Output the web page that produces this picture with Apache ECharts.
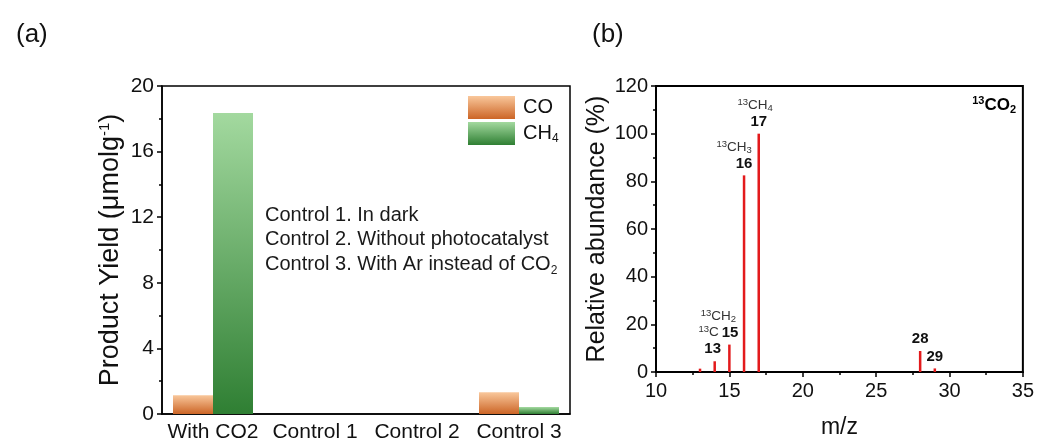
<!DOCTYPE html>
<html>
<head>
<meta charset="utf-8">
<script src="https://cdn.jsdelivr.net/npm/echarts@6/dist/echarts.min.js"></script>
<style>
  html, body { margin: 0; padding: 0; background: #fff; }
  #chart { width: 1037px; height: 444px; }
</style>
</head>
<body>
<div id="chart"></div>
<script>
// (a) product yield
const categories = ['With CO2', 'Control 1', 'Control 2', 'Control 3'];
const coYield = [1.15, 0, 0, 1.32];
const ch4Yield = [18.35, 0, 0, 0.42];

// (b) mass spectrum of 13CO2 run
const mz = [13, 14, 15, 16, 17, 28, 29];
const abundance = [1.4, 4.5, 11.5, 82.5, 100, 8.8, 1.5];
const peakTags = ['', '13', '15', '16', '17', '28', '29'];
const fragmentH = ['', '', '2', '3', '4', '', ''];   // 13CHn subscripts

const FONT = 'Liberation Sans, Arial, sans-serif';

const grad = (top, bottom) => new echarts.graphic.LinearGradient(0, 0, 0, 1, [
  { offset: 0, color: top },
  { offset: 1, color: bottom }
]);

const chem = {
  s: { fontSize: 9.5, fontFamily: FONT, color: '#333', verticalAlign: 'top' },
  f: { fontSize: 13.5, fontFamily: FONT, color: '#333', lineHeight: 16 },
  d: { fontSize: 9.5, fontFamily: FONT, color: '#333', verticalAlign: 'bottom' },
  b: { fontSize: 15, fontFamily: FONT, fontWeight: 'bold', color: '#111', lineHeight: 16 }
};

// per-peak label nudges so formula and number sit like the original
const labelTweak = {
  14: { offset: [-2, 0] },
  15: { offset: [-11, 0] },
  16: { offset: [-10, 0] },
  17: { offset: [-3.5, 0] }
};

const peaks = mz.map((x, i) => {
  let text = peakTags[i] ? '{b|' + peakTags[i] + '}' : '';
  if (fragmentH[i]) {
    const head = '{s|13}{f|CH}{d|' + fragmentH[i] + '}\n';
    if (x === 15) text = head + '{s|13}{f|C}{b15|' + peakTags[i] + '}';
    else if (x === 16) text = head + '{b16|' + peakTags[i] + '}';
    else if (x === 17) text = head + '{b17|' + peakTags[i] + '}';
  }
  return {
    value: [x, abundance[i]],
    label: Object.assign({ show: !!text, formatter: text }, labelTweak[x] || {})
  };
});

const chart = echarts.init(document.getElementById('chart'));

chart.setOption({
  animation: false,
  backgroundColor: '#fff',
  title: [
    { text: '(a)', left: 11, top: 16, textStyle: { fontFamily: FONT, fontSize: 26, fontWeight: 'normal', color: '#111', lineHeight: 28 } },
    { text: '(b)', left: 587, top: 16, textStyle: { fontFamily: FONT, fontSize: 26, fontWeight: 'normal', color: '#111', lineHeight: 28 } },
    {
      text: 'Control 1. In dark\nControl 2. Without photocatalyst\nControl 3. With Ar instead of CO{d|2}',
      left: 265, top: 203, padding: 0,
      textStyle: {
        fontFamily: FONT, fontSize: 20, fontWeight: 'normal', color: '#1a1a1a', lineHeight: 24.5,
        rich: { d: { fontSize: 12, fontFamily: FONT, color: '#1a1a1a', verticalAlign: 'bottom', lineHeight: 20 } }
      }
    },
    {
      text: '{s|13}{c|CO}{d|2}',
      right: 21, top: 95, padding: 0,
      textStyle: {
        rich: {
          s: { fontSize: 11, fontFamily: FONT, fontWeight: 'bold', color: '#000', verticalAlign: 'top' },
          c: { fontSize: 17, fontFamily: FONT, fontWeight: 'bold', color: '#000', lineHeight: 20 },
          d: { fontSize: 11, fontFamily: FONT, fontWeight: 'bold', color: '#000', verticalAlign: 'bottom' }
        }
      }
    }
  ],
  legend: {
    data: ['CO', 'CH4'],
    orient: 'vertical',
    left: 468, top: 96,
    padding: 0,
    itemWidth: 47, itemHeight: 23, itemGap: 3,
    icon: 'rect',
    formatter: n => n === 'CH4' ? 'CH{d|4}' : n,
    textStyle: {
      fontFamily: FONT, fontSize: 20, color: '#111', padding: [0, 0, 0, 3],
      rich: { d: { fontSize: 12, fontFamily: FONT, color: '#111', verticalAlign: 'bottom', lineHeight: 22 } }
    }
  },
  grid: [
    { left: 162, right: 467, top: 86, bottom: 30, show: true, borderColor: '#000', borderWidth: 1.5, backgroundColor: 'transparent' },
    { left: 656, right: 13, top: 86, bottom: 63, show: true, borderColor: '#000', borderWidth: 2, backgroundColor: 'transparent' }
  ],
  xAxis: [
    {
      gridIndex: 0, type: 'category', data: categories,
      axisLine: { lineStyle: { color: '#000', width: 1.5 } },
      axisTick: { alignWithLabel: true, length: 5, lineStyle: { color: '#000', width: 1.5 } },
      axisLabel: { interval: 0, fontFamily: FONT, fontSize: 21, color: '#111', margin: 8 },
      splitLine: { show: false }
    },
    {
      gridIndex: 1, type: 'value', min: 10, max: 35, interval: 5,
      name: 'm/z', nameLocation: 'middle', nameGap: 44,
      nameTextStyle: { fontFamily: FONT, fontSize: 23, color: '#111' },
      axisLine: { onZero: false, lineStyle: { color: '#000', width: 2 } },
      axisTick: { length: 5, lineStyle: { color: '#000', width: 1.5 } },
      minorTick: { show: true, splitNumber: 2, length: 3, lineStyle: { color: '#000', width: 1.5 } },
      axisLabel: { fontFamily: FONT, fontSize: 20, color: '#111', margin: 9 },
      splitLine: { show: false }
    }
  ],
  yAxis: [
    {
      gridIndex: 0, type: 'value', min: 0, max: 20, interval: 4,
      name: 'Product Yield (μmolg{s|-1})', nameLocation: 'middle', nameGap: 38,
      nameTextStyle: {
        fontFamily: FONT, fontSize: 27, color: '#111',
        rich: { s: { fontSize: 15, fontFamily: FONT, color: '#111', verticalAlign: 'top' } }
      },
      axisLine: { show: true, lineStyle: { color: '#000', width: 1.5 } },
      axisTick: { show: true, length: 5, lineStyle: { color: '#000', width: 1.5 } },
      minorTick: { show: true, splitNumber: 2, length: 3, lineStyle: { color: '#000', width: 1.5 } },
      axisLabel: { fontFamily: FONT, fontSize: 21, color: '#111', margin: 8 },
      splitLine: { show: false }
    },
    {
      gridIndex: 1, type: 'value', min: 0, max: 120, interval: 20,
      name: 'Relative abundance (%)', nameLocation: 'middle', nameGap: 46,
      nameTextStyle: { fontFamily: FONT, fontSize: 25, color: '#111' },
      axisLine: { show: true, onZero: false, lineStyle: { color: '#000', width: 2 } },
      axisTick: { show: true, length: 5, lineStyle: { color: '#000', width: 1.5 } },
      minorTick: { show: true, splitNumber: 2, length: 3, lineStyle: { color: '#000', width: 1.5 } },
      axisLabel: { fontFamily: FONT, fontSize: 20, color: '#111', margin: 8 },
      splitLine: { show: false }
    }
  ],
  series: [
    {
      name: 'CO', type: 'bar', xAxisIndex: 0, yAxisIndex: 0,
      data: coYield, barWidth: 40, barGap: '0%',
      itemStyle: { color: grad('#f9c79b', '#cc6526') }
    },
    {
      name: 'CH4', type: 'bar', xAxisIndex: 0, yAxisIndex: 0,
      data: ch4Yield, barWidth: 40, barGap: '0%',
      itemStyle: { color: grad('#a3d99f', '#2f7f33') }
    },
    {
      name: 'spectrum', type: 'bar', xAxisIndex: 1, yAxisIndex: 1,
      data: peaks, barWidth: 2.5,
      itemStyle: { color: '#e31a1c' },
      label: {
        position: 'top', distance: 4, align: 'center',
        fontFamily: FONT, lineHeight: 16,
        rich: Object.assign({}, chem, {
          b15: Object.assign({}, chem.b, { padding: [0, 0, 0, 3] }),
          b16: Object.assign({}, chem.b, { padding: [0, 0, 0, 20] }),
          b17: Object.assign({}, chem.b, { padding: [0, 0, 0, 7] })
        })
      }
    }
  ]
});
</script>
</body>
</html>
